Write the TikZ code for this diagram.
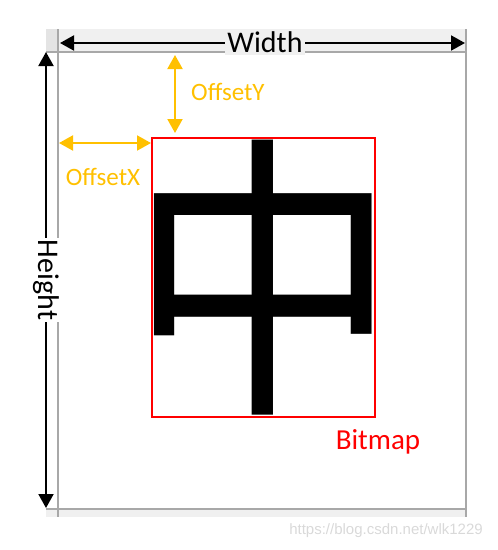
\documentclass[tikz,border=0pt]{standalone}
\usepackage{fontspec}
\usepackage{graphicx}
\setmainfont{Carlito}
\newfontfamily\cjk{Noto Sans CJK SC}
\newfontfamily\wmfont{Liberation Sans}
\usetikzlibrary{arrows.meta}
\definecolor{bandgray}{HTML}{F0F0F0}
\definecolor{cornergray}{HTML}{E4E4E4}
\definecolor{framegray}{HTML}{A8A8A8}
\definecolor{offorange}{HTML}{FFC000}
\definecolor{bmred}{HTML}{FF0000}
\tikzset{
  frameline/.style={draw=framegray, line width=2pt},
  dimarrow/.style={line width=2pt, {Triangle[length=14pt,width=15pt]}-{Triangle[length=14pt,width=15pt]}},
  offarrow/.style={dimarrow, draw=offorange, fill=offorange},
  dimlabel/.style={font=\fontsize{30}{32}\selectfont, inner sep=2pt},
  offlabel/.style={font=\fontsize{25}{27}\selectfont, text=offorange, inner sep=0pt},
}
\begin{document}
\begin{tikzpicture}[x=1pt,y=-1pt]
\useasboundingbox (0,0) rectangle (498,550);
% frame bands
\fill[bandgray] (46,29) rectangle (467,52);
\fill[cornergray] (46,29) rectangle (58,52);
\fill[bandgray] (46,509) rectangle (467,517);
\draw[frameline] (58,29) -- (58,517);
\draw[frameline] (466,29) -- (466,517);
\draw[frameline] (46,52) -- (467,52);
\draw[frameline] (46,509) -- (467,509);
% Width
\coordinate (wl) at (60,43);
\coordinate (wr) at (465,43);
\draw[dimarrow] (wl) -- (wr);
\node[dimlabel, fill=bandgray] (width) at (265,42) {Width};
% Height
\coordinate (ht) at (46,52);
\coordinate (hb) at (46,508);
\draw[dimarrow] (ht) -- (hb);
\node[dimlabel, fill=white, rotate=-90] (height) at (46,280) {Height};
% bitmap
\node[draw=bmred, line width=1.5pt, minimum width=223pt, minimum height=279pt, inner sep=0pt] (bmp) at (263.5,277.5) {};
\node[inner sep=0pt] (zhong) at (264,277.5) {\makebox[218pt][c]{\resizebox*{270pt}{275pt}{\cjk 中}}};
\node[font=\fontsize{29}{31}\selectfont, text=bmred, inner sep=0pt] (bmlabel) at (378,442) {Bitmap};
% offsets
\coordinate (oyt) at (175,55);
\coordinate (oyb) at (175,133);
\draw[offarrow] (oyt) -- (oyb);
\node[offlabel, anchor=west] (oylabel) at (191,92) {OffsetY};
\coordinate (oxl) at (59,143);
\coordinate (oxr) at (151,143);
\draw[offarrow] (oxl) -- (oxr);
\node[offlabel] (oxlabel) at (103,177) {OffsetX};
% watermark
\node[font=\wmfont\fontsize{15}{17}\selectfont, text=black!15, inner sep=0pt] (wm) at (386,531) {https://blog.csdn.net/wlk1229};
\end{tikzpicture}
\end{document}
